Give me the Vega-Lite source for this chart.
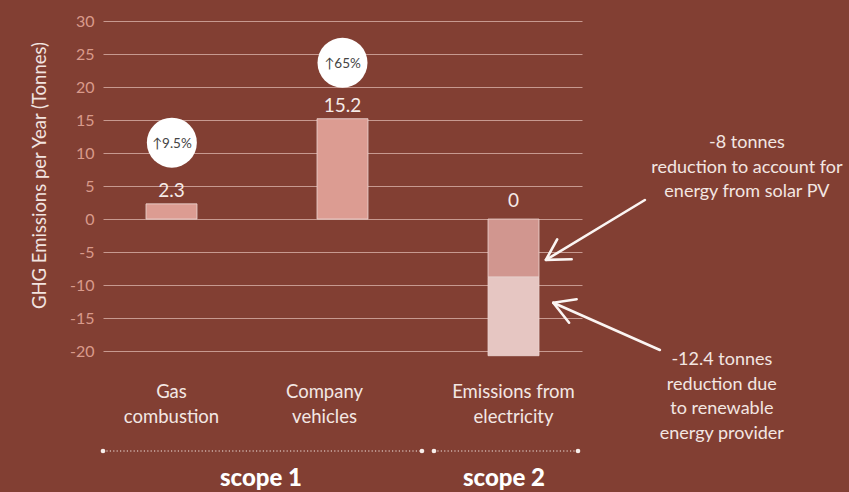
{
  "$schema": "https://vega.github.io/schema/vega-lite/v6.json",
  "width": 479,
  "height": 340,
  "autosize": {"type": "none"},
  "padding": {"left": 103, "top": 21, "right": 267, "bottom": 131},
  "background": "#823f33",
  "config": {
    "view": {"stroke": null},
    "font": "Lato",
    "text": {"font": "Lato"},
    "axisY": {
      "tickCount": 10,
      "grid": true, "gridColor": "#d8b0a8", "gridOpacity": 0.8, "gridWidth": 1,
      "domain": false, "ticks": false, "labelOverlap": false,
      "labelColor": "#d99a8b", "labelFont": "Lato", "labelFontSize": 16, "labelPadding": 9,
      "labelExpr": "'' + datum.value",
      "titleColor": "#f2e4e0", "titleFont": "Lato", "titleFontSize": 18.5, "titleFontWeight": "normal",
      "titleX": -64, "titleY": 154, "titleBaseline": "middle", "titleAlign": "center"
    }
  },
  "datasets": {
    "bars": [
      {"category": "Gas\ncombustion", "part": "Gas combustion", "value": 2.3},
      {"category": "Company\nvehicles", "part": "Company vehicles", "value": 15.2},
      {"category": "Emissions from\nelectricity", "part": "Solar PV", "value": -8.8},
      {"category": "Emissions from\nelectricity", "part": "Renewable provider", "value": -11.9}
    ],
    "totals": [
      {"category": "Gas\ncombustion", "total": 2.3},
      {"category": "Company\nvehicles", "total": 15.2},
      {"category": "Emissions from\nelectricity", "total": 0}
    ],
    "badges": [
      {"xv": 0, "yv": 11.57, "change": "↑9.5%"},
      {"xv": 1, "yv": 23.68, "change": "↑65%"}
    ],
    "notes": [
      {"xv": 3.37, "yv": 11.52, "note": "-8 tonnes\nreduction to account for\nenergy from solar PV"},
      {"xv": 3.223, "yv": -21.37, "note": "-12.4 tonnes\nreduction due\nto renewable\nenergy provider"}
    ],
    "scopes": [
      {"scope": "scope 1", "start": -0.4035, "end": 1.4656, "mid": 0.522},
      {"scope": "scope 2", "start": 1.536, "end": 2.38, "mid": 1.946}
    ],
    "arrows": [
      {"seg": "a1", "ord": 0, "xv": 2.772, "yv": 2.887},
      {"seg": "a1", "ord": 1, "xv": 2.192, "yv": -6.186},
      {"seg": "a1h", "ord": 0, "xv": 2.258, "yv": -3.066},
      {"seg": "a1h", "ord": 1, "xv": 2.192, "yv": -6.186},
      {"seg": "a1h", "ord": 2, "xv": 2.343, "yv": -6.095},
      {"seg": "a2", "ord": 0, "xv": 2.86, "yv": -19.83},
      {"seg": "a2", "ord": 1, "xv": 2.235, "yv": -12.67},
      {"seg": "a2h", "ord": 0, "xv": 2.372, "yv": -12.15},
      {"seg": "a2h", "ord": 1, "xv": 2.235, "yv": -12.67},
      {"seg": "a2h", "ord": 2, "xv": 2.328, "yv": -15.7}
    ]
  },
  "resolve": {"scale": {"x": "independent"}},
  "layer": [
    {
      "layer": [
        {
          "data": {"name": "bars"},
          "mark": {"type": "bar", "stroke": "#eed9d5", "strokeWidth": 0.8},
          "encoding": {
            "x": {
              "field": "category", "type": "nominal", "sort": null,
              "scale": {"paddingInner": 0.702, "paddingOuter": 0.2515},
              "axis": null
            },
            "y": {
              "field": "value", "type": "quantitative", "stack": "zero",
              "scale": {"domain": [-21.5, 30], "nice": false, "zero": false},
              "axis": {"title": "GHG Emissions per Year (Tonnes)"}
            },
            "color": {
              "field": "part", "type": "nominal",
              "scale": {
                "domain": ["Gas combustion", "Company vehicles", "Solar PV", "Renewable provider"],
                "range": ["#dc9c92", "#dc9c92", "#d1968f", "#e6c6c2"]
              },
              "legend": null
            },
            "order": {"field": "part", "sort": "descending"}
          }
        },
        {
          "data": {"name": "totals"},
          "transform": [{"filter": "datum.total != 0"}],
          "mark": {"type": "text", "color": "#f5ebe8", "fontSize": 19, "baseline": "alphabetic", "dy": -7},
          "encoding": {
            "x": {"field": "category", "type": "nominal", "sort": null, "axis": null},
            "y": {"field": "total", "type": "quantitative", "scale": {"domain": [-21.5, 30], "nice": false, "zero": false}},
            "text": {"field": "total", "type": "quantitative"}
          }
        },
        {
          "data": {"name": "totals"},
          "transform": [{"filter": "datum.total == 0"}],
          "mark": {"type": "text", "color": "#f5ebe8", "fontSize": 19, "baseline": "alphabetic", "dy": -12},
          "encoding": {
            "x": {"field": "category", "type": "nominal", "sort": null, "axis": null},
            "y": {"field": "total", "type": "quantitative", "scale": {"domain": [-21.5, 30], "nice": false, "zero": false}},
            "text": {"field": "total", "type": "quantitative"}
          }
        },
        {
          "data": {"name": "totals"},
          "transform": [{"filter": "datum.category != 'Company\\nvehicles'"}],
          "mark": {"type": "text", "color": "#f3e7e4", "fontSize": 18.5, "lineBreak": "\n", "lineHeight": 24.5, "baseline": "middle"},
          "encoding": {
            "x": {"field": "category", "type": "nominal", "sort": null, "axis": null},
            "y": {"datum": -26.2, "type": "quantitative", "scale": {"domain": [-21.5, 30], "nice": false, "zero": false}},
            "text": {"field": "category"}
          }
        },
        {
          "data": {"name": "totals"},
          "transform": [{"filter": "datum.category == 'Company\\nvehicles'"}],
          "mark": {"type": "text", "color": "#f3e7e4", "fontSize": 18.5, "lineBreak": "\n", "lineHeight": 24.5, "baseline": "middle", "dx": -18},
          "encoding": {
            "x": {"field": "category", "type": "nominal", "sort": null, "axis": null},
            "y": {"datum": -26.2, "type": "quantitative", "scale": {"domain": [-21.5, 30], "nice": false, "zero": false}},
            "text": {"field": "category"}
          }
        },
        {
          "mark": {"type": "rule", "color": "#f7eeeb", "strokeWidth": 2.5},
          "encoding": {
            "y": {"datum": 0, "type": "quantitative", "scale": {"domain": [-21.5, 30], "nice": false, "zero": false}}
          }
        }
      ]
    },
    {
      "layer": [
        {
          "data": {"name": "badges"},
          "mark": {"type": "circle", "size": 2500, "color": "#ffffff", "opacity": 1},
          "encoding": {
            "x": {"field": "xv", "type": "quantitative", "scale": {"domain": [-0.4035, 2.4035], "nice": false, "zero": false}, "axis": null},
            "y": {"field": "yv", "type": "quantitative", "scale": {"domain": [-21.5, 30], "nice": false, "zero": false}}
          }
        },
        {
          "data": {"name": "badges"},
          "mark": {"type": "text", "color": "#444444", "fontSize": 13.5, "baseline": "middle", "dy": 1},
          "encoding": {
            "x": {"field": "xv", "type": "quantitative", "scale": {"domain": [-0.4035, 2.4035], "nice": false, "zero": false}, "axis": null},
            "y": {"field": "yv", "type": "quantitative", "scale": {"domain": [-21.5, 30], "nice": false, "zero": false}},
            "text": {"field": "change"}
          }
        },
        {
          "data": {"name": "notes"},
          "mark": {"type": "text", "color": "#f3e6e2", "fontSize": 18, "lineBreak": "\n", "lineHeight": 24.5, "baseline": "middle", "align": "center"},
          "encoding": {
            "x": {"field": "xv", "type": "quantitative", "scale": {"domain": [-0.4035, 2.4035], "nice": false, "zero": false}, "axis": null},
            "y": {"field": "yv", "type": "quantitative", "scale": {"domain": [-21.5, 30], "nice": false, "zero": false}},
            "text": {"field": "note"}
          }
        },
        {
          "data": {"name": "arrows"},
          "mark": {"type": "line", "color": "#fbf5f3", "strokeWidth": 2.6, "strokeCap": "round", "strokeJoin": "round"},
          "encoding": {
            "x": {"field": "xv", "type": "quantitative", "scale": {"domain": [-0.4035, 2.4035], "nice": false, "zero": false}, "axis": null},
            "y": {"field": "yv", "type": "quantitative", "scale": {"domain": [-21.5, 30], "nice": false, "zero": false}},
            "detail": {"field": "seg"},
            "order": {"field": "ord"}
          }
        },
        {
          "data": {"name": "scopes"},
          "mark": {"type": "rule", "color": "#f3e7e4", "strokeWidth": 1.2, "strokeDash": [1.2, 2.2]},
          "encoding": {
            "x": {"field": "start", "type": "quantitative", "scale": {"domain": [-0.4035, 2.4035], "nice": false, "zero": false}, "axis": null},
            "x2": {"field": "end"},
            "y": {"datum": -35.13, "type": "quantitative", "scale": {"domain": [-21.5, 30], "nice": false, "zero": false}}
          }
        },
        {
          "data": {"name": "scopes"},
          "mark": {"type": "circle", "size": 22, "color": "#f7eeeb", "opacity": 1},
          "encoding": {
            "x": {"field": "start", "type": "quantitative", "scale": {"domain": [-0.4035, 2.4035], "nice": false, "zero": false}, "axis": null},
            "y": {"datum": -35.13, "type": "quantitative", "scale": {"domain": [-21.5, 30], "nice": false, "zero": false}}
          }
        },
        {
          "data": {"name": "scopes"},
          "mark": {"type": "circle", "size": 22, "color": "#f7eeeb", "opacity": 1},
          "encoding": {
            "x": {"field": "end", "type": "quantitative", "scale": {"domain": [-0.4035, 2.4035], "nice": false, "zero": false}, "axis": null},
            "y": {"datum": -35.13, "type": "quantitative", "scale": {"domain": [-21.5, 30], "nice": false, "zero": false}}
          }
        },
        {
          "data": {"name": "scopes"},
          "mark": {"type": "text", "color": "#ffffff", "fontSize": 24, "fontWeight": 900, "baseline": "alphabetic", "align": "center"},
          "encoding": {
            "x": {"field": "mid", "type": "quantitative", "scale": {"domain": [-0.4035, 2.4035], "nice": false, "zero": false}, "axis": null},
            "y": {"datum": -40.39, "type": "quantitative", "scale": {"domain": [-21.5, 30], "nice": false, "zero": false}},
            "text": {"field": "scope"}
          }
        }
      ]
    }
  ]
}
